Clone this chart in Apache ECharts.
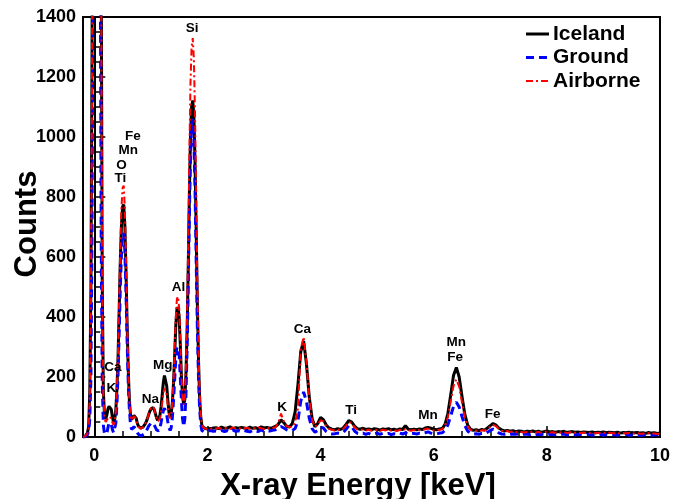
<!DOCTYPE html>
<html>
<head>
<meta charset="utf-8">
<script src="https://cdn.jsdelivr.net/npm/echarts@6/dist/echarts.min.js"></script>
<style>
  html, body { margin: 0; padding: 0; background: #fff; }
  #main { width: 673px; height: 499px; }
</style>
</head>
<body>
<div id="main"></div>
<script>
// energy bins [keV], fine below 2.1 keV, coarse above
let energyLow = [
    -0.20, -0.18, -0.16, -0.14, -0.12, -0.10, -0.08, -0.06, -0.04, -0.02,
    0.00, 0.02, 0.04, 0.06, 0.08, 0.10, 0.12, 0.14, 0.16, 0.18,
    0.20, 0.22, 0.24, 0.26, 0.28, 0.30, 0.32, 0.34, 0.36, 0.38,
    0.40, 0.42, 0.44, 0.46, 0.48, 0.50, 0.52, 0.54, 0.56, 0.58,
    0.60, 0.62, 0.64, 0.66, 0.68, 0.70, 0.72, 0.74, 0.76, 0.78,
    0.80, 0.82, 0.84, 0.86, 0.88, 0.90, 0.92, 0.94, 0.96, 0.98,
    1.00, 1.02, 1.04, 1.06, 1.08, 1.10, 1.12, 1.14, 1.16, 1.18,
    1.20, 1.22, 1.24, 1.26, 1.28, 1.30, 1.32, 1.34, 1.36, 1.38,
    1.40, 1.42, 1.44, 1.46, 1.48, 1.50, 1.52, 1.54, 1.56, 1.58,
    1.60, 1.62, 1.64, 1.66, 1.68, 1.70, 1.72, 1.74, 1.76, 1.78,
    1.80, 1.82, 1.84, 1.86, 1.88, 1.90, 1.92, 1.94, 1.96, 1.98,
    2.00, 2.02, 2.04, 2.06, 2.08, 2.10
];
let energyHigh = [
    2.15, 2.20, 2.25, 2.30, 2.35, 2.40, 2.45, 2.50, 2.55, 2.60,
    2.65, 2.70, 2.75, 2.80, 2.85, 2.90, 2.95, 3.00, 3.05, 3.10,
    3.15, 3.20, 3.25, 3.30, 3.35, 3.40, 3.45, 3.50, 3.55, 3.60,
    3.65, 3.70, 3.75, 3.80, 3.85, 3.90, 3.95, 4.00, 4.05, 4.10,
    4.15, 4.20, 4.25, 4.30, 4.35, 4.40, 4.45, 4.50, 4.55, 4.60,
    4.65, 4.70, 4.75, 4.80, 4.85, 4.90, 4.95, 5.00, 5.05, 5.10,
    5.15, 5.20, 5.25, 5.30, 5.35, 5.40, 5.45, 5.50, 5.55, 5.60,
    5.65, 5.70, 5.75, 5.80, 5.85, 5.90, 5.95, 6.00, 6.05, 6.10,
    6.15, 6.20, 6.25, 6.30, 6.35, 6.40, 6.45, 6.50, 6.55, 6.60,
    6.65, 6.70, 6.75, 6.80, 6.85, 6.90, 6.95, 7.00, 7.05, 7.10,
    7.15, 7.20, 7.25, 7.30, 7.35, 7.40, 7.45, 7.50, 7.55, 7.60,
    7.65, 7.70, 7.75, 7.80, 7.85, 7.90, 7.95, 8.00, 8.05, 8.10,
    8.15, 8.20, 8.25, 8.30, 8.35, 8.40, 8.45, 8.50, 8.55, 8.60,
    8.65, 8.70, 8.75, 8.80, 8.85, 8.90, 8.95, 9.00, 9.05, 9.10,
    9.15, 9.20, 9.25, 9.30, 9.35, 9.40, 9.45, 9.50, 9.55, 9.60,
    9.65, 9.70, 9.75, 9.80, 9.85, 9.90, 9.95, 10.00
];

// counts, Iceland
let icelandLow = [
    0, 1, 3, 6, 14, 35, 150, 500, 1300, 3000,
    5000, 6500, 7000, 6500, 5000, 3200, 1700, 520, 150, 75,
    60, 72, 92, 102, 106, 92, 66, 50, 58, 90,
    160, 270, 430, 590, 705, 768, 775, 705, 555, 375,
    222, 122, 72, 58, 62, 72, 76, 63, 46, 36,
    32, 30, 31, 33, 38, 44, 52, 62, 74, 85,
    93, 97, 98, 91, 78, 64, 55, 57, 72, 100,
    140, 182, 205, 203, 170, 122, 82, 66, 78, 115,
    180, 270, 370, 425, 433, 400, 310, 200, 135, 108,
    125, 210, 350, 560, 800, 1000, 1100, 1122, 1070, 920,
    700, 460, 270, 140, 70, 40, 33, 30, 28, 31,
    27, 30, 28, 32, 29, 30
];
let icelandHigh = [
    31, 28, 33, 29, 30, 34, 27, 31, 29, 32,
    30, 28, 33, 29, 31, 27, 34, 30, 32, 29,
    31, 35, 42, 57, 48, 36, 33, 45, 84, 175,
    285, 320, 244, 133, 62, 34, 45, 65, 58, 40,
    30, 26, 24, 28, 25, 30, 42, 55, 50, 36,
    28, 26, 29, 25, 27, 24, 28, 26, 23, 27,
    25, 28, 24, 26, 23, 27, 25, 38, 26, 24,
    26, 24, 27, 25, 30, 32, 29, 26, 24, 27,
    28, 42, 78, 140, 205, 232, 200, 135, 75, 40,
    26, 22, 24, 21, 25, 23, 30, 38, 45, 40,
    30, 24, 20, 22, 19, 21, 18, 20, 19, 17,
    19, 18, 20, 17, 19, 16, 18, 20, 17, 18,
    16, 18, 17, 19, 15, 17, 18, 16, 17, 15,
    17, 16, 15, 17, 14, 16, 15, 17, 14, 16,
    15, 14, 16, 13, 15, 14, 16, 13, 14, 15,
    13, 14, 12, 15, 13, 14, 12, 13
];

// counts, Ground
let groundLow = [
    0, 0, 1, 3, 8, 20, 60, 200, 700, 1900,
    3800, 5200, 5800, 5200, 3800, 2000, 700, 180, 40, 10,
    5, 12, 30, 48, 52, 42, 25, 14, 18, 45,
    110, 210, 350, 500, 610, 670, 680, 620, 480, 320,
    180, 90, 40, 25, 28, 34, 36, 26, 14, 8,
    5, 4, 5, 7, 10, 14, 20, 28, 36, 42,
    46, 48, 47, 41, 32, 24, 19, 20, 30, 48,
    70, 88, 96, 92, 74, 50, 30, 22, 32, 65,
    120, 190, 260, 300, 305, 275, 200, 120, 60, 35,
    60, 140, 290, 500, 740, 930, 1040, 1060, 990, 830,
    600, 380, 210, 100, 45, 22, 18, 17, 19, 18,
    18, 21, 19, 22, 20, 19
];
let groundHigh = [
    20, 17, 22, 18, 21, 16, 23, 19, 21, 18,
    22, 19, 17, 23, 20, 18, 24, 19, 21, 20,
    22, 24, 28, 35, 30, 24, 20, 22, 28, 55,
    120, 150, 118, 62, 28, 16, 22, 33, 30, 18,
    12, 10, 11, 13, 12, 15, 26, 38, 35, 20,
    12, 10, 13, 9, 12, 8, 11, 13, 9, 12,
    10, 12, 8, 11, 9, 13, 10, 14, 9, 11,
    12, 10, 13, 11, 14, 17, 13, 11, 10, 13,
    14, 22, 40, 70, 102, 116, 100, 68, 38, 20,
    12, 10, 11, 9, 12, 11, 16, 22, 26, 22,
    14, 10, 9, 11, 8, 10, 9, 11, 8, 10,
    9, 8, 10, 7, 9, 8, 10, 7, 9, 8,
    7, 9, 8, 10, 7, 8, 9, 7, 8, 9,
    8, 7, 9, 6, 8, 7, 9, 6, 8, 7,
    7, 8, 6, 8, 7, 9, 6, 7, 8, 6,
    7, 6, 8, 7, 6, 7, 8, 7
];

// counts, Airborne
let airborneLow = [
    0, 1, 3, 6, 12, 30, 130, 450, 1200, 2800,
    4800, 6300, 6800, 6300, 4900, 3100, 1650, 500, 140, 65,
    50, 55, 62, 66, 68, 62, 48, 40, 50, 85,
    165, 290, 465, 640, 765, 830, 838, 760, 590, 390,
    225, 120, 70, 56, 60, 70, 73, 60, 44, 34,
    30, 28, 29, 32, 37, 43, 52, 63, 76, 88,
    96, 100, 101, 93, 78, 62, 52, 52, 62, 82,
    112, 145, 163, 162, 140, 105, 75, 62, 78, 118,
    190, 290, 400, 460, 468, 430, 330, 210, 138, 108,
    135, 240, 410, 650, 940, 1180, 1300, 1330, 1260, 1080,
    820, 540, 310, 160, 78, 44, 33, 30, 28, 30,
    26, 29, 27, 30, 28, 29
];
let airborneHigh = [
    28, 30, 27, 31, 29, 27, 32, 28, 30, 27,
    29, 31, 27, 30, 28, 32, 29, 27, 31, 28,
    30, 33, 45, 78, 52, 36, 32, 35, 48, 95,
    292, 333, 250, 130, 58, 34, 42, 56, 52, 36,
    27, 24, 22, 25, 23, 27, 38, 50, 46, 32,
    25, 23, 26, 22, 24, 21, 25, 23, 21, 24,
    22, 25, 21, 23, 20, 24, 22, 26, 23, 21,
    23, 21, 24, 22, 26, 28, 25, 22, 21, 24,
    26, 38, 66, 118, 170, 192, 168, 115, 64, 36,
    24, 20, 22, 19, 23, 21, 27, 34, 40, 36,
    27, 21, 18, 20, 17, 19, 16, 18, 17, 15,
    17, 16, 18, 15, 17, 14, 16, 18, 15, 16,
    14, 16, 15, 17, 13, 15, 16, 14, 15, 13,
    15, 14, 13, 15, 12, 14, 13, 15, 12, 14,
    13, 12, 14, 11, 13, 12, 14, 11, 12, 13,
    11, 12, 10, 13, 11, 12, 10, 11
];

// element labels: [text, energy, counts]
let elementLabels = [
    ['Si', 1.73, 1363],
    ['Fe', 0.68, 1003],
    ['Mn', 0.60, 957],
    ['O', 0.48, 907],
    ['Ti', 0.46, 863],
    ['Al', 1.49, 498],
    ['Mg', 1.21, 240],
    ['Na', 0.99, 127],
    ['Ca', 0.33, 233],
    ['K', 0.30, 163],
    ['Ca', 3.68, 360],
    ['K', 3.32, 100],
    ['Ti', 4.54, 90],
    ['Mn', 5.90, 73],
    ['Mn', 6.40, 317],
    ['Fe', 6.38, 267],
    ['Fe', 7.04, 77]
];

let seriesNames = ['Iceland', 'Ground', 'Airborne'];
let xMajorTicks = [0, 2, 4, 6, 8, 10];
let xMinorTicks = [0.5, 1, 1.5, 2.5, 3, 3.5, 4.5, 5, 5.5, 6.5, 7, 7.5, 8.5, 9, 9.5];

(function() {
    let font = '"Liberation Sans", Arial, sans-serif';
    let energies = energyLow.concat(energyHigh);
    let iceland = icelandLow.concat(icelandHigh);
    let ground = groundLow.concat(groundHigh);
    let airborne = airborneLow.concat(airborneHigh);

    let styles = [
        {color: '#000', width: 3, dash: null},
        {color: '#0000ff', width: 3, dash: [8, 5]},
        {color: '#ff0000', width: 2, dash: [7, 3, 2, 3]}
    ];

    function pairs(values) {
        return energies.map(function(e, i) { return [e, values[i]]; });
    }

    // hand-drawn legend box (ROOT style, no symbols)
    let legendItems = [];
    seriesNames.forEach(function(name, i) {
        let y = 34 + i * 23.5;
        legendItems.push({
            type: 'line', shape: {x1: 526, y1: y, x2: 549, y2: y},
            style: {stroke: styles[i].color, lineWidth: styles[i].width, lineDash: styles[i].dash}
        });
        legendItems.push({
            type: 'text', x: 553, y: y,
            style: {text: name, align: 'left', verticalAlign: 'middle',
                fontFamily: font, fontWeight: 'bold', fontSize: 21, fill: '#000'}
        });
    });

    let chart = echarts.init(document.getElementById('main'));
    let option = {
        animation: false,
        grid: {
            left: 83, right: 13, top: 17, bottom: 62,
            show: true, borderColor: '#000', borderWidth: 2, backgroundColor: 'transparent'
        },
        xAxis: [{
            type: 'value', min: -0.2, max: 10,
            axisLine: {show: true, lineStyle: {color: '#000', width: 2}},
            axisTick: {show: true, inside: true, length: 11, customValues: xMajorTicks,
                lineStyle: {color: '#000', width: 1.5}},
            axisLabel: {customValues: xMajorTicks, margin: 10, color: '#000',
                fontFamily: font, fontWeight: 'bold', fontSize: 18},
            splitLine: {show: false}
        }, {
            type: 'value', min: -0.2, max: 10, position: 'bottom', offset: 0,
            axisLine: {show: false},
            axisTick: {show: true, inside: true, length: 6, customValues: xMinorTicks,
                lineStyle: {color: '#000', width: 1.5}},
            axisLabel: {show: false},
            splitLine: {show: false}
        }],
        yAxis: {
            type: 'value', min: 0, max: 1400, interval: 200,
            axisLine: {show: true, lineStyle: {color: '#000', width: 2}},
            axisTick: {show: true, inside: true, length: 11, lineStyle: {color: '#000', width: 1.5}},
            minorTick: {show: true, splitNumber: 4, length: 6, lineStyle: {color: '#000', width: 1.5}},
            axisLabel: {margin: 7, color: '#000', fontFamily: font, fontWeight: 'bold', fontSize: 18,
                formatter: function(v) { return String(v); }},
            splitLine: {show: false}
        },
        graphic: [{
            type: 'text', x: 358, y: 486,
            style: {text: 'X-ray Energy [keV]', align: 'center', verticalAlign: 'middle',
                fontFamily: font, fontWeight: 'bold', fontSize: 31, fill: '#000'}
        }, {
            type: 'text', x: 27, y: 224, rotation: Math.PI / 2,
            style: {text: 'Counts', align: 'center', verticalAlign: 'middle',
                fontFamily: font, fontWeight: 'bold', fontSize: 31, fill: '#000'}
        }].concat(legendItems),
        series: [iceland, ground, airborne].map(function(values, i) {
            return {
                name: seriesNames[i], type: 'line', data: pairs(values),
                symbol: 'none', showSymbol: false, clip: true,
                lineStyle: {color: styles[i].color, width: styles[i].width,
                    type: styles[i].dash || 'solid'},
                itemStyle: {color: styles[i].color}
            };
        }).concat([{
            name: 'elements', type: 'scatter', silent: true, z: 5,
            symbol: 'circle', symbolSize: 1, itemStyle: {color: 'rgba(0,0,0,0)', opacity: 1},
            data: elementLabels.map(function(l) { return {name: l[0], value: [l[1], l[2]]}; }),
            label: {show: true, position: 'inside', formatter: '{b}', color: '#000', opacity: 1,
                fontFamily: font, fontWeight: 'bold', fontSize: 13.5}
        }])
    };
    chart.setOption(option);
})();
</script>
</body>
</html>
